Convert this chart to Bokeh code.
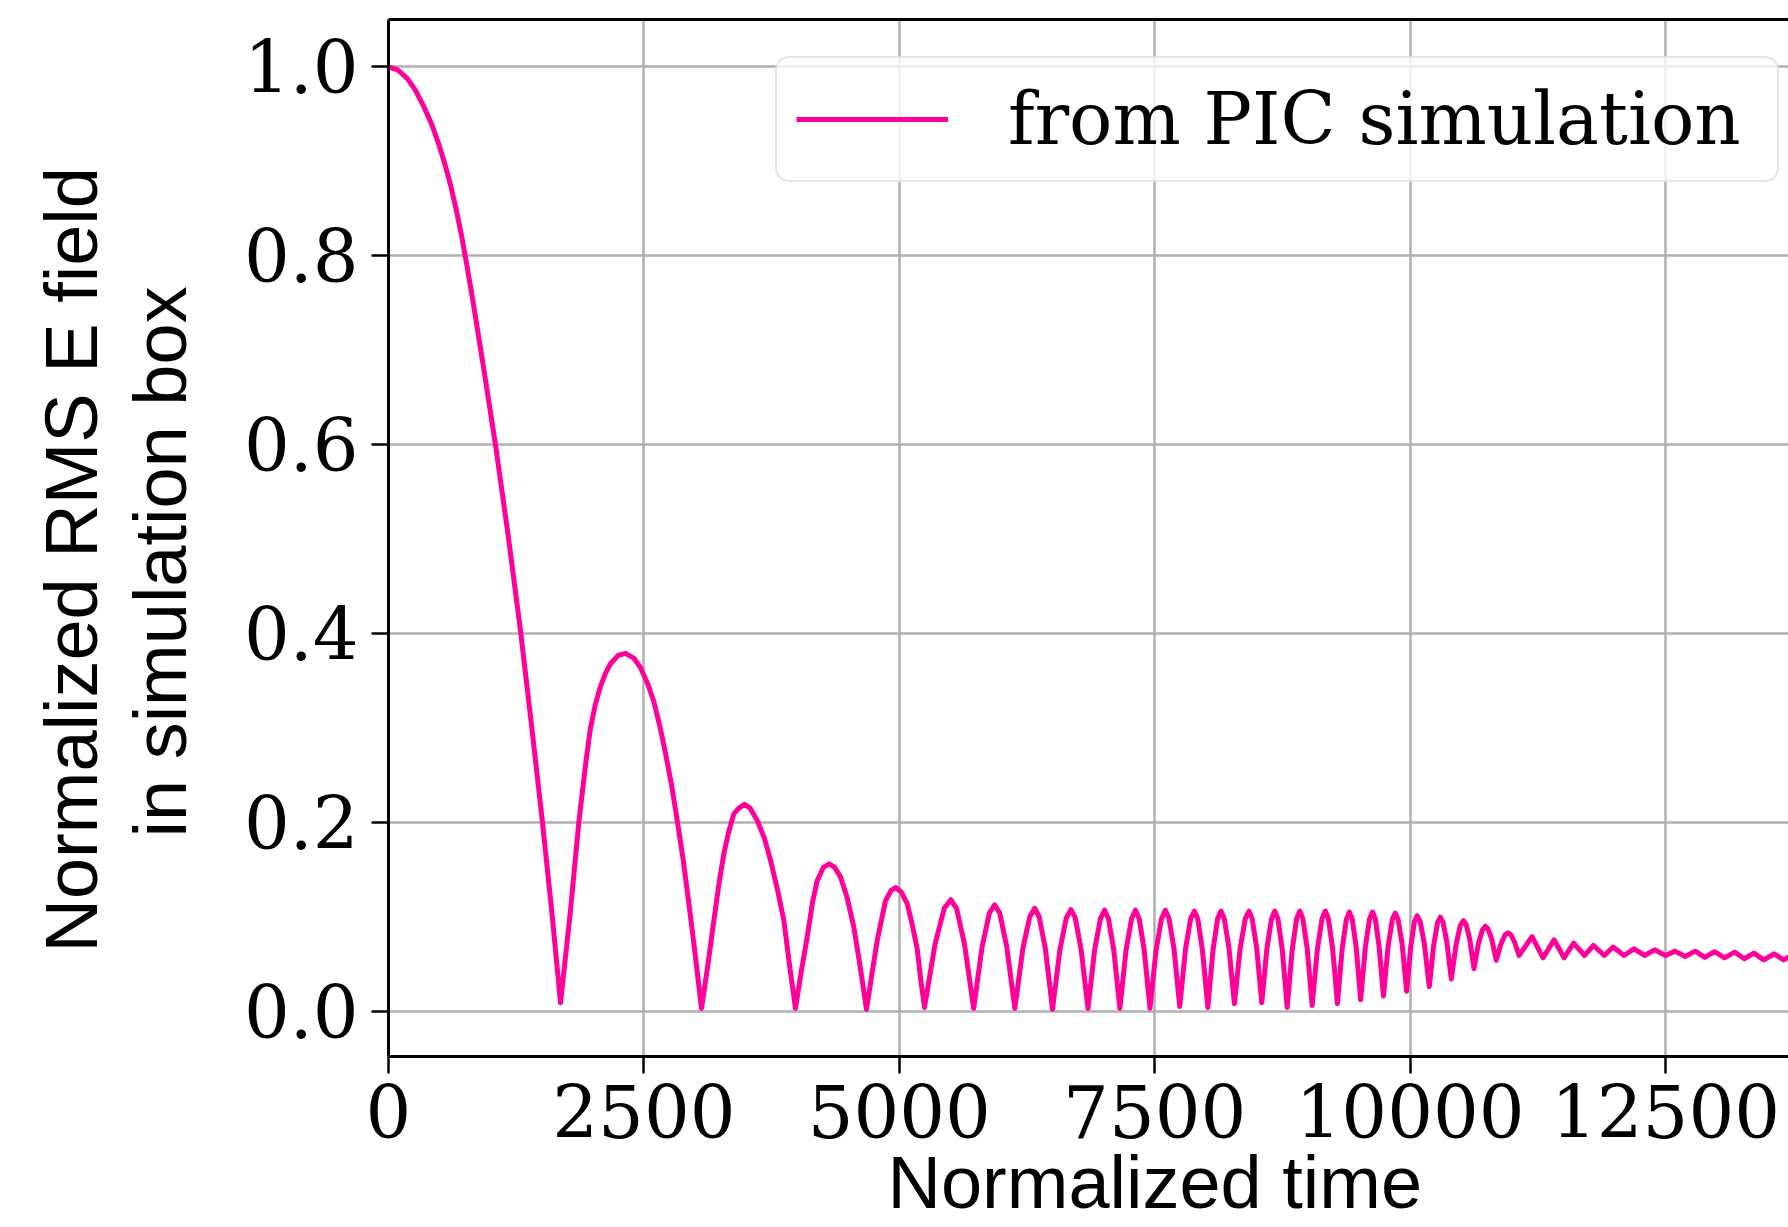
from bokeh.plotting import figure
from bokeh.models import Range1d, FixedTicker, PrintfTickFormatter, LinearAxis, Title
from bokeh.embed import file_html
from bokeh.resources import INLINE

# ---- data ----
time = [
    0, 90, 183, 260, 346, 420, 493, 550, 607, 665, 721, 770, 819, 930, 1047, 1170, 1292, 1400, 1504, 1600, 1684,
    1780, 1863, 1930, 1977, 2025, 2075, 2125, 2173, 2250, 2320, 2400, 2467, 2540, 2597, 2660, 2712, 2770, 2826, 2885, 2940, 3000, 3064,
    3130, 3185, 3235, 3283, 3330, 3380, 3430, 3485, 3540, 3609, 3680, 3739, 3805, 3870, 3930, 3984,
    4040, 4098, 4150, 4196, 4255, 4314, 4370, 4425, 4490, 4555, 4620, 4679,
    4730, 4784, 4865, 4920, 4966, 5020, 5077, 5130, 5175, 5212, 5247,
    5350, 5440, 5504, 5560, 5638, 5728,
    5810, 5882, 5933, 5983, 6052, 6131,
    6209, 6277, 6325, 6369, 6430, 6500,
    6572, 6635, 6680, 6722, 6780, 6847,
    6912, 6969, 7010, 7047, 7099, 7159,
    7220, 7274, 7312, 7348, 7397, 7454,
    7514, 7567, 7605, 7640, 7689, 7745,
    7802, 7852, 7888, 7921, 7967, 8020,
    8071, 8116, 8148, 8181, 8227, 8280,
    8337, 8387, 8423, 8454, 8498, 8548,
    8599, 8644, 8676, 8706, 8749, 8797,
    8846, 8889, 8920, 8950, 8993, 9041,
    9093, 9138, 9170, 9200, 9241, 9289,
    9335, 9376, 9405, 9433, 9472, 9516,
    9562, 9603, 9632, 9659, 9696, 9739,
    9785, 9826, 9855, 9883, 9922, 9966,
    10007, 10043, 10069, 10099, 10140, 10188,
    10231, 10269, 10296, 10323, 10360, 10403,
    10451, 10492, 10522, 10548, 10584, 10625,
    10669, 10708, 10736, 10763, 10800, 10843,
    10889, 10930, 10959, 10986, 11023, 11066,
    11194, 11301, 11409, 11507, 11601, 11708, 11794, 11901, 11987, 12094,
    12192, 12295, 12393, 12500, 12594, 12693, 12791, 12885, 12980, 13078,
    13177, 13271, 13365, 13463, 13562, 13656, 13750, 13845,
]

e_rms = [
    1.0, 0.997, 0.988, 0.976, 0.958, 0.940, 0.918, 0.898, 0.875, 0.848, 0.818, 0.788, 0.757, 0.682, 0.600, 0.505, 0.403, 0.303, 0.203, 0.104, 0.009,
    0.105, 0.200, 0.262, 0.300, 0.325, 0.344, 0.358, 0.368, 0.377, 0.379, 0.374, 0.364, 0.346, 0.328, 0.300, 0.273, 0.240, 0.202, 0.160, 0.114, 0.062, 0.003,
    0.052, 0.096, 0.135, 0.167, 0.190, 0.209, 0.215, 0.219, 0.215, 0.202, 0.183, 0.160, 0.130, 0.096, 0.045, 0.003,
    0.042, 0.078, 0.115, 0.138, 0.152, 0.156, 0.152, 0.142, 0.120, 0.089, 0.045, 0.002,
    0.038, 0.075, 0.117, 0.128, 0.131, 0.126, 0.114, 0.090, 0.066, 0.032, 0.004,
    0.071, 0.109, 0.118, 0.109, 0.071, 0.003,
    0.068, 0.104, 0.1126, 0.104, 0.068, 0.003,
    0.066, 0.100, 0.109, 0.100, 0.066, 0.002,
    0.065, 0.099, 0.1076, 0.099, 0.065, 0.003,
    0.065, 0.098, 0.107, 0.098, 0.065, 0.003,
    0.065, 0.098, 0.107, 0.098, 0.065, 0.003,
    0.065, 0.098, 0.107, 0.098, 0.066, 0.005,
    0.066, 0.098, 0.106, 0.098, 0.065, 0.004,
    0.065, 0.098, 0.106, 0.098, 0.067, 0.008,
    0.067, 0.098, 0.106, 0.098, 0.067, 0.009,
    0.067, 0.098, 0.106, 0.098, 0.065, 0.004,
    0.065, 0.098, 0.106, 0.098, 0.066, 0.006,
    0.066, 0.098, 0.106, 0.098, 0.067, 0.008,
    0.066, 0.097, 0.105, 0.098, 0.068, 0.012,
    0.068, 0.098, 0.105, 0.098, 0.069, 0.016,
    0.069, 0.097, 0.104, 0.097, 0.071, 0.021,
    0.069, 0.095, 0.101, 0.095, 0.071, 0.026,
    0.070, 0.094, 0.0996, 0.094, 0.073, 0.034,
    0.071, 0.091, 0.096, 0.092, 0.076, 0.045,
    0.072, 0.086, 0.090, 0.087, 0.076, 0.054,
    0.071, 0.081, 0.083, 0.081, 0.073, 0.059,
    0.079, 0.0565, 0.0756, 0.0565, 0.072, 0.059, 0.0696, 0.059, 0.068, 0.059,
    0.066, 0.059, 0.065, 0.059, 0.0636, 0.058, 0.0636, 0.057, 0.063, 0.0565,
    0.0625, 0.0555, 0.0615, 0.0544, 0.0608, 0.0544, 0.060, 0.054,
]
assert len(time) == len(e_rms)

x_ticks = [0, 2500, 5000, 7500, 10000, 12500]
y_ticks = [0.0, 0.2, 0.4, 0.6, 0.8, 1.0]
series_label = "from PIC simulation"
x_title = "Normalized time"
y_title_lines = ["Normalized RMS E field", "in simulation box"]

LINE_COLOR = "#FF0099"
X_END = 13704
Y_START, Y_END = -0.048, 1.0503

p = figure(width=1788, height=1227, output_backend="svg", toolbar_location=None,
           x_range=Range1d(0, X_END), y_range=Range1d(Y_START, Y_END),
           min_border_left=388, min_border_right=0, min_border_top=19, min_border_bottom=171)
p.background_fill_color = "white"
p.border_fill_color = "white"
p.outline_line_color = None

p.line(time, e_rms, line_color=LINE_COLOR, line_width=5, line_join="round",
       legend_label=series_label)

xax = p.xaxis[0]
yax = p.yaxis[0]
for ax in (xax, yax):
    ax.axis_line_color = "black"
    ax.axis_line_width = 3
    ax.major_tick_line_color = "black"
    ax.major_tick_line_width = 2.5
    ax.major_tick_in = 0
    ax.major_tick_out = 17
    ax.minor_tick_line_color = None
    ax.major_label_text_font = "DejaVu Serif"
    ax.major_label_text_font_size = "72px"
    ax.major_label_text_color = "black"

xt = FixedTicker(ticks=x_ticks)
yt = FixedTicker(ticks=y_ticks)
xax.ticker = xt
yax.ticker = yt
xax.formatter = PrintfTickFormatter(format="%d")
yax.formatter = PrintfTickFormatter(format="%.1f")
xax.major_label_standoff = 11
yax.major_label_standoff = 13

for g, t in ((p.xgrid[0], xt), (p.ygrid[0], yt)):
    g.ticker = t
    g.grid_line_color = "#b0b0b0"
    g.grid_line_width = 2.5

# top border line
top = LinearAxis(ticker=FixedTicker(ticks=[]), axis_line_color="black", axis_line_width=3,
                 major_tick_out=0, major_tick_in=0, minor_tick_out=0, minor_tick_in=0,
                 major_label_text_font_size="0px", major_label_standoff=0)
p.add_layout(top, "above")

# axis titles
def make_title(text, offset, valign, standoff):
    return Title(text=text, align="left", offset=offset, vertical_align=valign, standoff=standoff,
                 text_font="Liberation Sans", text_font_size="74px",
                 text_font_style="normal", text_color="black")

p.add_layout(make_title(x_title, 499, "top", 0), "below")
p.add_layout(make_title(y_title_lines[1], 219, "top", 74), "left")
p.add_layout(make_title(y_title_lines[0], 104, "top", -66), "left")

lg = p.legend[0]
lg.location = (387, 874)
lg.margin = 0
lg.padding = 19
lg.glyph_width = 152
lg.glyph_height = 84
lg.label_height = 84
lg.label_width = 750
lg.label_standoff = 60
lg.label_text_font = "DejaVu Serif"
lg.label_text_font_size = "72px"
lg.label_text_color = "black"
lg.border_line_color = "#cccccc"
lg.border_line_width = 2
lg.background_fill_color = "white"
lg.background_fill_alpha = 0.8
if "border_radius" in lg.properties():
    lg.border_radius = 14

open("out.html", "w").write(file_html(p, INLINE))
